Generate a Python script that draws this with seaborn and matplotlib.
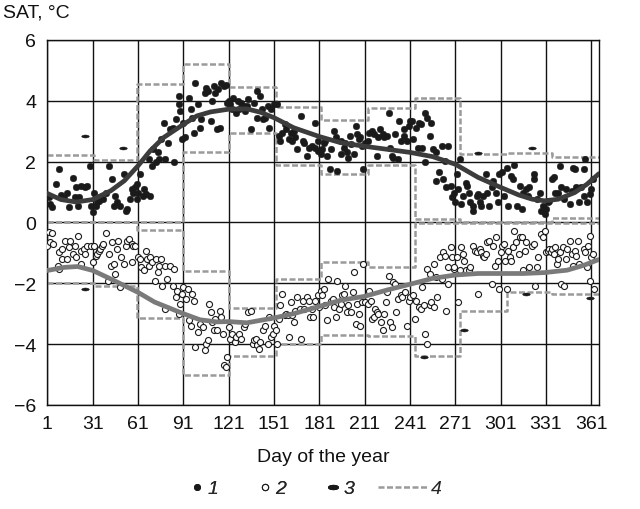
import numpy as np
import pandas as pd
import matplotlib
matplotlib.use("Agg")
import matplotlib.pyplot as plt
from matplotlib.lines import Line2D
from matplotlib.path import Path
import seaborn as sns

# ---------------- data ----------------
# Series 1: daily SAT anomalies, upper (filled dots)
up_day = [2, 3, 4, 7, 9, 10, 12, 14, 15, 18, 19, 20, 21, 22, 23, 26, 27, 29, 30,
          31, 32, 33, 34, 35, 36, 38, 40, 42, 44, 45, 46, 47, 49, 52, 53, 54, 56, 57, 58, 59, 60, 60,
          61, 62, 64, 65, 66, 68, 69, 70, 71, 73, 74, 75, 76, 78, 79, 81, 82, 84, 85, 86, 88, 88, 89, 90,
          91, 92, 95, 96, 97, 98, 99, 101, 102, 103, 105, 106, 107, 109, 110, 111, 112, 113, 114, 115, 116, 118, 119, 120,
          121, 122, 123, 124, 126, 127, 128, 129, 131, 132, 133, 134, 136, 138, 140, 140, 142, 143, 144, 145, 147, 148, 149, 151,
          153, 154, 155, 156, 158, 159, 161, 162, 163, 164, 165, 166, 169, 170, 171, 173, 174, 176, 178, 178, 180, 180,
          182, 183, 184, 185, 186, 188, 189, 191, 192, 193, 195, 195, 197, 198, 199, 200, 201, 202, 204, 205, 206, 207, 208, 209, 210,
          211, 213, 214, 216, 217, 219, 220, 221, 223, 224, 226, 227, 228, 229, 230, 231, 233, 234, 235, 237, 237, 239, 240, 241,
          242, 243, 245, 246, 247, 248, 249, 251, 251, 252, 254, 255, 256, 258, 258, 260, 262, 263, 264, 265, 266, 268, 269, 270, 271,
          272, 273, 274, 275, 276, 278, 279, 280, 281, 283, 283, 285, 286, 287, 288, 289, 291, 292, 293, 295, 296, 298, 299, 300,
          302, 303, 305, 306, 308, 309, 310, 312, 314, 315, 316, 318, 319, 320, 323, 323, 325, 327, 328, 329, 330,
          331, 332, 333, 335, 336, 337, 339, 340, 341, 343, 344, 347, 348, 349, 350, 351, 353, 354, 356, 356, 357, 358, 360, 361, 362]
up_val = [0.82, 0.6, 0.5, 1.25, 1.75, 0.9, 0.8, 0.95, 0.5, 1.45, 0.85, 1.15, 0.55, 0.85, 1.2, 1.15, 1.2, 1.85, 0.55,
          0.33, 0.98, 0.55, 0.66, 0.71, 0.82, 0.76, 0.98, 1.86, 1.42, 0.55, 0.87, 0.66, 0.55, 1.58, 0.38, 0.44, 0.76, 1.09, 0.98, 1.15, 1.26, 0.76,
          0.98, 1.58, 0.87, 1.09, 0.93, 2.08, 0.87, 1.86, 2.4, 1.97, 2.3, 2.08, 2.73, 3.28, 2.08, 2.62, 3.06, 3.11, 1.97, 3.39, 4.15, 3.88, 3.66, 2.73,
          3.28, 2.79, 4.1, 3.72, 3.44, 2.95, 4.59, 3.88, 3.11, 3.39, 4.26, 4.43, 4.32, 3.33, 3.99, 4.48, 4.26, 3.06, 4.37, 3.11, 4.59, 4.48, 4.53, 3.93,
          3.99, 3.88, 3.72, 4.1, 3.61, 3.99, 3.72, 3.93, 3.83, 3.66, 3.83, 4.04, 3.06, 3.93, 3.44, 4.32, 4.15, 3.72, 3.39, 3.44, 3.83, 3.11, 3.72, 3.88,
          3.88, 2.84, 2.68, 2.95, 3.22, 3.06, 2.73, 2.95, 2.68, 3.0, 2.79, 2.4, 3.5, 2.68, 2.62, 2.19, 2.46, 2.51, 3.28, 2.46, 2.35, 2.68,
          2.24, 2.4, 2.62, 2.68, 2.19, 1.77, 2.4, 3.0, 2.79, 1.69, 2.24, 2.68, 2.46, 2.62, 2.3, 2.13, 2.84, 2.57, 2.24, 3.17, 2.9, 2.73, 2.79, 2.51, 1.75,
          2.62, 2.68, 2.95, 3.0, 2.9, 2.19, 2.79, 3.06, 2.9, 2.79, 2.84, 3.61, 2.46, 2.19, 2.13, 2.9, 2.08, 3.33, 2.68, 3.06, 2.84, 2.68, 3.17, 3.33,
          3.33, 2.73, 3.11, 2.46, 3.28, 3.22, 2.46, 3.61, 1.97, 3.44, 2.84, 3.28, 2.4, 1.37, 2.3, 1.64, 2.51, 1.42, 2.02, 1.15, 2.51, 1.2, 0.82, 0.98, 0.66,
          1.58, 1.09, 2.08, 0.6, 0.87, 1.31, 1.2, 0.98, 0.66, 0.38, 0.55, 0.87, 0.93, 0.66, 0.55, 0.87, 1.58, 0.98, 0.55, 1.15, 1.37, 0.98, 0.66, 1.58,
          1.64, 0.87, 1.8, 0.55, 1.53, 1.42, 1.88, 0.55, 1.2, 0.44, 0.98, 1.09, 0.87, 1.15, 1.58, 1.42, 0.76, 0.98, 0.38, 0.55, 0.27,
          0.44, 0.66, 0.71, 1.42, 1.48, 0.98, 0.98, 1.86, 1.15, 0.76, 1.09, 0.6, 1.04, 1.8, 1.75, 1.15, 0.66, 1.15, 0.87, 1.75, 2.08, 0.66, 0.93, 1.09, 1.42]

# Series 2: daily SAT anomalies, lower (open circles)
lo_day = [1, 2, 3, 4, 5, 8, 9, 9, 11, 11, 13, 14, 15, 16, 18, 19, 20, 21, 23, 23, 25, 26, 27, 30, 31,
          32, 33, 34, 35, 36, 37, 38, 40, 41, 42, 43, 44, 45, 46, 47, 48, 49, 50, 52, 53, 54, 55, 57, 57, 58, 59,
          61, 62, 63, 65, 66, 67, 68, 69, 70, 72, 73, 74, 75, 76, 77, 79, 79, 80, 82, 84, 85, 86, 87, 88, 89, 90,
          91, 93, 94, 95, 96, 97, 98, 99, 101, 102, 104, 105, 106, 107, 108, 109, 110, 111, 112, 113, 115, 116, 117, 118, 119, 120,
          121, 122, 123, 125, 126, 128, 129, 131, 132, 134, 136, 137, 138, 139, 140, 141, 142, 144, 145, 147, 148, 149, 150, 151, 152,
          153, 154, 155, 156, 158, 159, 160, 161, 162, 163, 164, 165, 166, 168, 169, 170, 171, 173, 174, 175, 176, 177, 178, 180, 181,
          182, 183, 184, 185, 186, 187, 189, 190, 191, 192, 193, 194, 195, 196, 197, 198, 199, 200, 202, 203, 204, 205, 206, 207, 208, 209, 210,
          211, 213, 214, 215, 216, 217, 218, 219, 220, 222, 223, 224, 225, 226, 227, 228, 229, 230, 231, 232, 233, 235, 236, 238, 239, 240, 241,
          243, 244, 245, 247, 248, 249, 250, 251, 252, 252, 254, 254, 255, 257, 257, 258, 259, 261, 262, 263, 264, 265, 266, 266, 268, 269, 270, 270,
          272, 273, 274, 275, 276, 277, 278, 280, 281, 283, 284, 285, 286, 287, 288, 289, 290, 291, 292, 293, 295, 296, 297, 298, 299, 300,
          301, 302, 303, 304, 305, 306, 307, 308, 309, 310, 311, 313, 314, 315, 316, 317, 318, 320, 322, 323, 324, 325, 326, 328, 329, 330,
          331, 332, 333, 334, 335, 336, 337, 338, 339, 340, 341, 342, 343, 344, 345, 347, 348, 349, 350, 351, 352, 353, 356, 357, 358, 359, 360, 360, 361, 362, 363]
lo_val = [-0.77, -0.33, -0.66, -0.36, -0.71, -1.42, -1.53, -0.98, -0.87, -1.2, -0.6, -1.2, -0.82, -0.6, -1.04, -0.77, -1.15, -0.44, -1.37, -0.93, -0.87, -1.04, -0.77, -0.77, -1.31,
          -0.77, -1.09, -1.04, -0.93, -0.87, -0.77, -0.71, -0.36, -1.91, -1.04, -1.42, -0.66, -1.37, -1.69, -0.87, -0.6, -2.13, -1.15, -1.37, -0.77, -0.6, -0.55, -0.71, -1.31, -0.77, -0.77,
          -1.15, -1.2, -1.48, -1.58, -0.93, -1.2, -1.42, -1.15, -1.31, -1.91, -1.2, -1.64, -1.42, -1.2, -2.08, -2.84, -1.42, -1.86, -1.42, -2.08, -1.53, -2.46, -2.24, -3.0, -2.68, -2.35,
          -2.13, -2.51, -2.19, -3.22, -3.39, -2.35, -2.57, -4.1, -3.61, -3.33, -3.44, -4.2, -4.0, -3.88, -2.68, -2.95, -3.28, -3.55, -3.17, -3.55, -2.9, -3.11, -3.66, -4.7, -4.75, -4.43,
          -3.44, -3.83, -3.66, -3.93, -3.77, -3.66, -3.83, -3.44, -3.33, -2.95, -2.9, -3.99, -3.88, -3.83, -4.04, -4.15, -3.93, -3.55, -3.39, -3.99, -3.11, -3.77, -3.66, -3.39, -3.55,
          -3.99, -3.17, -2.73, -2.35, -3.06, -3.0, -3.06, -3.77, -2.62, -3.06, -3.28, -2.9, -2.46, -2.84, -3.83, -2.57, -2.84, -2.46, -2.57, -3.11, -2.84, -3.11, -2.57, -2.4, -2.79,
          -2.24, -2.4, -2.19, -2.73, -3.22, -1.86, -2.57, -2.51, -2.79, -3.11, -1.91, -2.84, -2.68, -2.4, -2.35, -2.08, -2.95, -2.73, -2.95, -2.3, -1.64, -3.33, -2.68, -3.0, -3.39, -2.62, -1.37,
          -2.62, -2.68, -2.24, -2.57, -3.17, -3.11, -2.84, -2.95, -3.0, -3.28, -3.55, -3.0, -2.62, -2.3, -1.75, -3.28, -3.44, -1.97, -2.02, -2.95, -2.51, -2.4, -2.46, -2.3, -3.39, -2.57, -2.46,
          -2.4, -3.17, -2.57, -2.79, -2.84, -2.13, -2.73, -3.66, -3.99, -1.53, -2.73, -1.69, -2.62, -2.79, -1.37, -1.8, -2.46, -1.15, -1.86, -0.98, -1.09, -2.9, -2.02, -1.48, -0.82, -1.15, -1.53, -1.48,
          -1.15, -2.62, -1.58, -0.82, -1.04, -1.26, -1.58, -1.58, -1.48, -0.77, -0.93, -0.98, -2.35, -0.87, -0.98, -1.09, -1.15, -1.04, -0.66, -0.6, -2.02, -0.77, -1.42, -0.49, -1.26, -2.19,
          -0.98, -0.77, -0.71, -1.26, -2.19, -0.93, -1.15, -1.26, -0.82, -0.27, -0.66, -1.04, -0.49, -0.49, -1.58, -0.93, -0.66, -1.48, -0.77, -0.71, -2.08, -1.48, -1.15, -0.38, -0.49, -0.27,
          -0.98, -0.93, -0.87, -0.98, -0.87, -1.04, -0.82, -1.37, -1.2, -0.98, -2.02, -0.82, -2.08, -1.2, -0.87, -0.6, -1.04, -1.42, -0.93, -1.09, -0.6, -1.37, -0.87, -0.98, -1.48, -0.77, -0.44, -1.91, -1.15, -1.04, -2.19]

# Series 3: extreme values
ext_day = [26, 51, 26, 286, 322, 250, 277, 318, 360]
ext_val = [2.85, 2.45, -2.2, 2.27, 2.46, -4.43, -3.53, -2.37, -2.5]

# Smooth curves (read nodes)
cu_day = [1, 10, 20, 31, 43, 52, 61, 69, 78, 91, 100, 109, 121, 133, 142, 151, 164, 181, 195, 211,
          226, 241, 256, 271, 286, 301, 313, 322, 330, 339, 350, 358, 366]
cu_val = [0.95, 0.75, 0.67, 0.75, 1.04, 1.37, 1.86, 2.35, 2.79, 3.22, 3.5, 3.63, 3.72, 3.73, 3.62, 3.44, 3.11, 2.82, 2.62, 2.5,
          2.4, 2.3, 2.16, 1.91, 1.48, 1.15, 0.9, 0.76, 0.71, 0.76, 0.98, 1.25, 1.6]
cl_day = [1, 12, 21, 31, 43, 52, 61, 72, 83, 91, 102, 113, 121, 133, 151, 164, 181, 195, 211, 226,
          242, 256, 271, 286, 301, 316, 330, 345, 356, 366]
cl_val = [-1.58, -1.48, -1.45, -1.58, -1.86, -2.08, -2.3, -2.62, -2.84, -3.0, -3.2, -3.27, -3.26, -3.3, -3.14, -3.0, -2.76, -2.56, -2.43, -2.22,
          -2.02, -1.84, -1.73, -1.68, -1.68, -1.68, -1.65, -1.57, -1.41, -1.22]

# Series 4: monthly bounds (step lines)
m_start = [1, 32, 60, 91, 121, 152, 182, 213, 244, 274, 305, 335, 366]
ub_hi = [2.2, 2.05, 4.55, 5.2, 4.45, 3.8, 3.35, 3.75, 4.1, 2.25, 2.28, 2.15, 2.15]
ub_lo = [0.0, 0.0, 0.0, 2.3, 2.95, 1.9, 1.6, 1.9, 0.1, 0.0, 0.0, 0.15, 0.15]
lb_hi = [0.0, 0.0, -0.25, -1.6, -2.8, -1.85, -1.3, -1.45, -0.03, -0.03, -0.03, -0.03, -0.03]
lb_lo = [-2.0, -2.1, -3.15, -5.0, -4.4, -4.0, -3.7, -3.75, -4.4, -2.9, -2.3, -2.37, -2.37]

x_ticks = [1, 31, 61, 91, 121, 151, 181, 211, 241, 271, 301, 331, 361]
y_ticks = [-6, -4, -2, 0, 2, 4, 6]
legend_labels = ['1', '2', '3', '4']

# ---------------- plot ----------------
sns.set_theme(style="white")
plt.rcParams['font.family'] = ['Liberation Sans', 'DejaVu Sans']

fig = plt.figure(figsize=(6.4, 5.1), dpi=100)
ax = fig.add_axes([0.074, 0.204, 0.8625, 0.716])

step_color = '#9a9a9a'
dash = (0, (2.4, 1.0))
for arr in (ub_hi, ub_lo, lb_hi, lb_lo):
    sns.lineplot(x=m_start, y=arr, ax=ax, color=step_color, lw=1.8,
                 drawstyle='steps-post', estimator=None, sort=False,
                 linestyle=dash, zorder=2)

sns.scatterplot(x=lo_day, y=lo_val, ax=ax, marker='o', s=19, facecolor='white',
                edgecolor='#1a1a1a', linewidth=0.8, zorder=3)
sns.scatterplot(x=up_day, y=up_val, ax=ax, marker='o', s=23, color='#1a1a1a',
                edgecolor='#1a1a1a', linewidth=0.3, zorder=3)

t = np.linspace(0, 2 * np.pi, 25)
ell = Path(np.column_stack([np.cos(t), 0.4 * np.sin(t)]))
sns.scatterplot(x=ext_day, y=ext_val, ax=ax, marker=ell, s=30, color='#1a1a1a',
                edgecolor='#1a1a1a', linewidth=0.3, zorder=4)

sns.lineplot(x=cu_day, y=cu_val, ax=ax, color='#3c3c3c', lw=3.4, estimator=None, sort=False, zorder=5)
sns.lineplot(x=cl_day, y=cl_val, ax=ax, color='#7a7a7a', lw=3.4, estimator=None, sort=False, zorder=5)

ax.set_xlim(1, 366.3)
ax.set_ylim(-6, 6)
ax.set_xticks(x_ticks)
ax.set_yticks(y_ticks)
ax.set_xticklabels([str(v) for v in x_ticks])
ax.set_yticklabels([f"{v}".replace('-', '\u2212') for v in y_ticks])
ax.grid(True, color='#111111', lw=1.0)
ax.set_axisbelow(True)
for sp in ax.spines.values():
    sp.set_color('#111111')
    sp.set_linewidth(1.0)
ax.tick_params(axis='both', length=0, labelsize=14, colors='#111111')
ax.tick_params(axis='x', pad=7)
ax.tick_params(axis='y', pad=8)
ax.set_xlabel('Day of the year', fontsize=14, color='#111111', labelpad=12)
ax.set_ylabel('')

fig.text(0.005, 0.992, 'SAT, \u00b0C', fontsize=14, ha='left', va='top', color='#111111')

h1 = Line2D([], [], marker='o', ls='none', color='#1a1a1a', markersize=4)
h2 = Line2D([], [], marker='o', ls='none', mfc='white', mec='#1a1a1a', mew=0.8, markersize=4.5)
h3 = Line2D([], [], marker=ell, ls='none', color='#1a1a1a', markersize=7)
h4 = Line2D([], [], ls=dash, color=step_color, lw=1.8)
leg_a = fig.legend([h1, h2, h3], legend_labels[:3], loc='center', bbox_to_anchor=(0.426, 0.04),
                   ncol=3, frameon=False, handlelength=0.6, handletextpad=0.25, columnspacing=2.1,
                   prop={'style': 'italic', 'size': 14})
fig.legend([h4], legend_labels[3:], loc='center', bbox_to_anchor=(0.64, 0.04),
           ncol=1, frameon=False, handlelength=2.5, handletextpad=0.2,
           prop={'style': 'italic', 'size': 14})
fig.add_artist(leg_a)

fig.savefig('out.png', dpi=100)
